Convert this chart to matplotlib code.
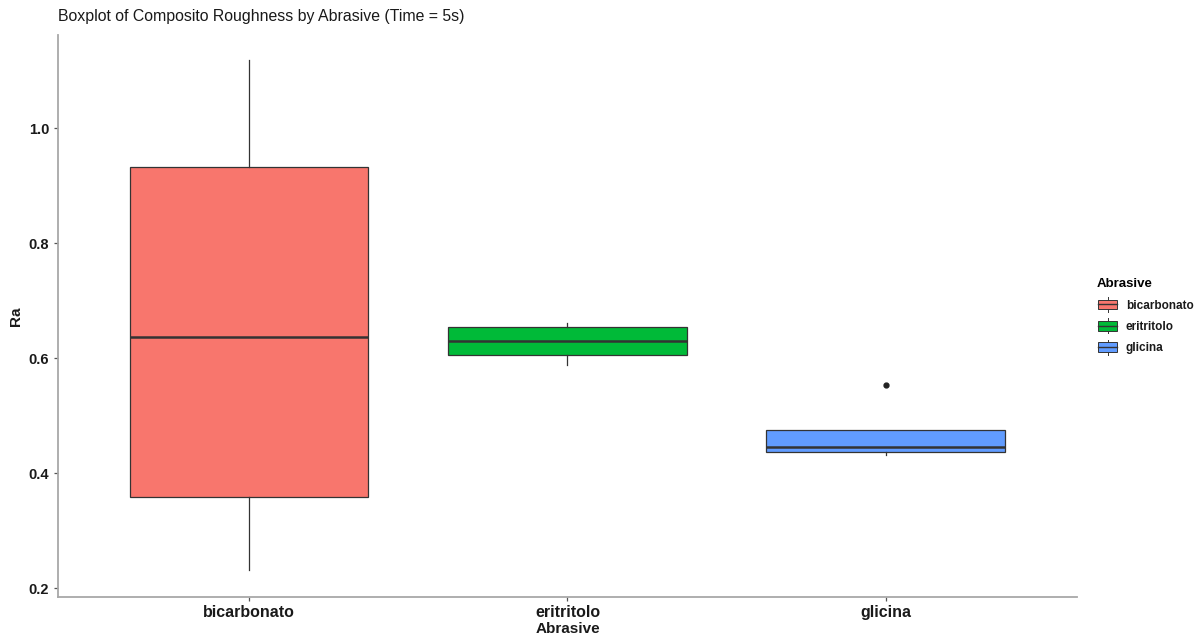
import matplotlib
matplotlib.use("Agg")
import matplotlib.pyplot as plt
from matplotlib.legend_handler import HandlerBase
from matplotlib.patches import Rectangle
from matplotlib.lines import Line2D

plt.rcParams['font.family'] = ['Liberation Sans', 'DejaVu Sans']

# data
abrasives = ["bicarbonato", "eritritolo", "glicina"]
whis_lo = [0.231, 0.588, 0.431]
q1 = [0.358, 0.605, 0.437]
medians = [0.636, 0.630, 0.445]
q3 = [0.932, 0.654, 0.475]
whis_hi = [1.118, 0.661, 0.475]
outliers = [[], [], [0.553]]
colors = ["#F8766D", "#00BA38", "#619CFF"]
yticks = [0.2, 0.4, 0.6, 0.8, 1.0]

line_col = "#333333"
axis_col = "#a8a8a8"

stats = []
for i, name in enumerate(abrasives):
    stats.append(dict(label=name, whislo=whis_lo[i], q1=q1[i], med=medians[i],
                      q3=q3[i], whishi=whis_hi[i], fliers=outliers[i]))

fig = plt.figure(figsize=(11.99, 6.37), dpi=100)
ax = fig.add_axes([0.0484, 0.0628, 0.8498, 0.8822])

bp = ax.bxp(stats, positions=[1, 2, 3], widths=0.75, patch_artist=True,
            showcaps=False,
            boxprops=dict(edgecolor=line_col, linewidth=0.9),
            whiskerprops=dict(color=line_col, linewidth=0.9),
            medianprops=dict(color=line_col, linewidth=1.8),
            flierprops=dict(marker='o', markersize=3.5, markerfacecolor='#222222',
                            markeredgecolor='#222222'))
for patch, c in zip(bp['boxes'], colors):
    patch.set_facecolor(c)

ax.set_xlim(0.4, 3.6)
ax.set_ylim(0.1845, 1.162)
ax.set_yticks(yticks)
ax.set_yticklabels([f"{v:.1f}" for v in yticks])
ax.set_xticks([1, 2, 3])
ax.set_xticklabels(abrasives)

for s in ['top', 'right']:
    ax.spines[s].set_visible(False)
for s in ['left', 'bottom']:
    ax.spines[s].set_color(axis_col)
    ax.spines[s].set_linewidth(1.3)
ax.tick_params(axis='both', colors='#555555', length=3, width=0.9)
for lab in ax.get_yticklabels():
    lab.set_color('#1a1a1a')
    lab.set_fontweight('bold')
    lab.set_fontsize(10.5)
for lab in ax.get_xticklabels():
    lab.set_color('#1a1a1a')
    lab.set_fontweight('bold')
    lab.set_fontsize(11.5)
ax.tick_params(axis='x', pad=3)

ax.set_ylabel("Ra", fontsize=11, fontweight='bold', color='#1a1a1a', labelpad=4)
ax.set_xlabel("Abrasive", fontsize=11, fontweight='bold', color='#1a1a1a', labelpad=1)
fig.text(0.0484, 0.963, "Boxplot of Composito Roughness by Abrasive (Time = 5s)",
         fontsize=11.4, color='#1a1a1a', ha='left', va='bottom')


# small boxplot glyph for the legend keys (box taller than the text box)
class BoxKey(HandlerBase):
    def create_artists(self, legend, orig_handle, xdescent, ydescent,
                       width, height, fontsize, trans):
        fc = orig_handle.get_facecolor()
        x0, w = -xdescent, width
        y0, h = -ydescent, height
        rect = Rectangle((x0 + w * 0.06, y0 - h * 0.1), w * 0.88, h * 1.2,
                         facecolor=fc, edgecolor=line_col, linewidth=0.7,
                         transform=trans)
        med = Line2D([x0 + w * 0.06, x0 + w * 0.94], [y0 + h * 0.5] * 2,
                     color=line_col, linewidth=1.0, transform=trans)
        wt = Line2D([x0 + w * 0.5] * 2, [y0 + h * 1.1, y0 + h * 1.4],
                    color=line_col, linewidth=0.7, transform=trans)
        wb = Line2D([x0 + w * 0.5] * 2, [y0 - h * 0.4, y0 - h * 0.1],
                    color=line_col, linewidth=0.7, transform=trans)
        return [rect, med, wt, wb]


handles = [Rectangle((0, 0), 1, 1, facecolor=c) for c in colors]
leg = fig.legend(handles, abrasives, loc='upper left',
                 bbox_to_anchor=(0.906, 0.580), frameon=False,
                 handler_map={Rectangle: BoxKey()}, handlelength=1.85,
                 handletextpad=0.6, labelspacing=0.8,
                 title="Abrasive", alignment='left',
                 prop=dict(size=8.5, weight='bold'))
leg.get_title().set_fontweight('bold')
leg.get_title().set_fontsize(9.5)
for t in leg.get_texts():
    t.set_color('#1a1a1a')

fig.savefig("out.png", dpi=100)
